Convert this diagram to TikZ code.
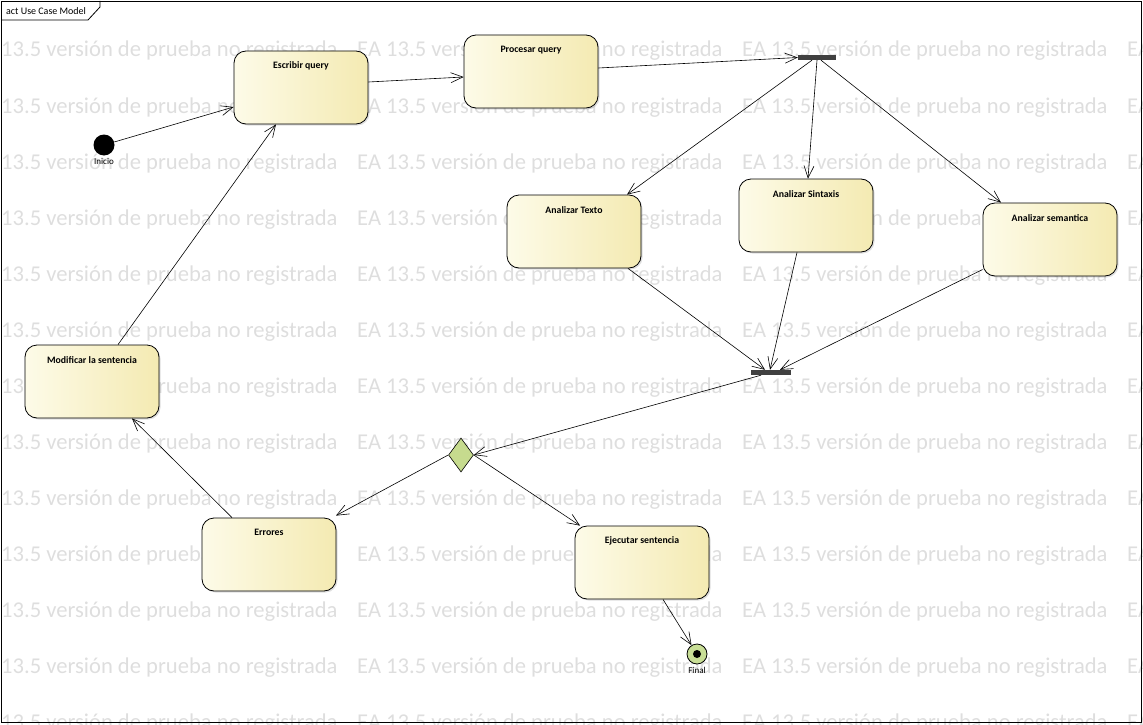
\documentclass[tikz,border=0pt]{standalone}
\usepackage{fontspec}
\setmainfont{Carlito}
\usetikzlibrary{arrows.meta,shapes.geometric,shadows}
\definecolor{boxL}{RGB}{253,251,232}
\definecolor{boxR}{RGB}{244,234,178}
\definecolor{wmark}{RGB}{222,222,222}
\definecolor{barc}{RGB}{64,64,64}
\definecolor{decc}{RGB}{198,219,142}
\definecolor{finc}{RGB}{200,222,150}
\tikzset{
  actbox/.style={draw=black, line width=0.8pt, rounded corners=12pt,
    minimum width=134pt, minimum height=73pt, inner sep=0pt,
    left color=boxL, right color=boxR,
    drop shadow={shadow xshift=1.5pt, shadow yshift=-1.5pt, opacity=0.25}},
  lbl/.style={font=\fontsize{9.8}{11}\selectfont\bfseries, inner sep=0pt},
  small/.style={font=\fontsize{9}{10}\selectfont, inner sep=0pt},
  bar/.style={fill=barc, draw=none, minimum width=38pt, minimum height=5pt, inner sep=0pt},
  flow/.style={draw=black, line width=0.6pt, -{Straight Barb[length=12pt,width=10pt,line width=0.6pt]}},
  wm/.style={text=wmark, font=\fontsize{22.6}{24}\selectfont, anchor=base west, inner sep=0pt},
}
\begin{document}
\begin{tikzpicture}[x=1pt,y=-1pt]
\useasboundingbox (0,0) rectangle (1143,725);
\begin{scope}
\clip (0,0) rectangle (1143,725);
\foreach \r in {0,...,12}{
  \foreach \c in {0,...,3}{
    \node[wm] at ({-28+385*\c},{57+56*\r}) {EA 13.5 versión de prueba no registrada};
  }
}
\end{scope}
% frame
\draw[line width=0.8pt] (1,1) rectangle (1141,722);
\draw[line width=0.8pt] (1,20) -- (88,20) -- (100,7) -- (100,1);
\node[anchor=base west, font=\fontsize{10}{11}\selectfont, inner sep=0pt] (frl) at (6,15) {act Use Case Model};

% nodes
\node[actbox] (esc) at (301,87.5) {};
\node[lbl] (escT) at ([yshift=-15pt]esc.north) {Escribir query};
\node[actbox] (pro) at (531,71.5) {};
\node[lbl] (proT) at ([yshift=-15pt]pro.north) {Procesar query};
\node[actbox] (tex) at (574,231.5) {};
\node[lbl] (texT) at ([yshift=-15pt]tex.north) {Analizar Texto};
\node[actbox] (sin) at (806,215.5) {};
\node[lbl] (sinT) at ([yshift=-15pt]sin.north) {Analizar Sintaxis};
\node[actbox] (sem) at (1050,239.5) {};
\node[lbl] (semT) at ([yshift=-15pt]sem.north) {Analizar semantica};
\node[actbox] (mod) at (92,381.5) {};
\node[lbl] (modT) at ([yshift=-15pt]mod.north) {Modificar la sentencia};
\node[actbox] (err) at (269,554.5) {};
\node[lbl] (errT) at ([yshift=-15pt]err.north) {Errores};
\node[actbox] (eje) at (642,562.5) {};
\node[lbl] (ejeT) at ([yshift=-15pt]eje.north) {Ejecutar sentencia};

\node[bar] (fork) at (817,57.5) {};
\node[bar, minimum width=40pt] (join) at (771,372.5) {};

\node[circle, fill=black, minimum size=21pt, inner sep=0pt] (ini) at (104,145) {};
\node[small] (iniT) at (104,161.5) {Inicio};

\node[circle, draw=black, line width=0.8pt, fill=finc, minimum size=20pt, inner sep=0pt] (fin) at (697,654) {};
\node[circle, fill=black, minimum size=8pt, inner sep=0pt] (finD) at (fin.center) {};
\node[small] (finT) at (697,670.5) {Final};

\node[diamond, draw=black, line width=0.6pt, fill=decc, minimum width=25pt, minimum height=34pt, inner sep=0pt] (dec) at (461,455) {};

% connectors
\draw[flow] (ini) -- ([yshift=-19.5pt]esc.west);
\draw[flow] ([yshift=5.5pt]esc.east) -- ([yshift=-5.5pt]pro.west);
\draw[flow] ([yshift=3.5pt]pro.east) -- (fork.west);
\draw[flow] ([xshift=-5pt]fork.south) -- ([xshift=53pt]tex.north);
\draw[flow] (fork.south) -- ([xshift=2pt]sin.north);
\draw[flow] ([xshift=4pt]fork.south) -- ([xshift=-49pt]sem.north);
\draw[flow] ([xshift=54pt]tex.south) -- ([xshift=-6pt]join.north);
\draw[flow] ([xshift=-9pt]sin.south) -- ([xshift=-1pt]join.north);
\draw[flow] ([yshift=-30pt]sem.west) -- ([xshift=9pt]join.north);
\draw[flow] ([xshift=-10pt]join.south) -- (dec.east);
\draw[flow] (dec.west) -- ([xshift=67pt,yshift=2pt]err.north);
\draw[flow] (dec.east) -- ([xshift=-62pt]eje.north);
\draw[flow] ([xshift=-37pt]err.north) -- ([xshift=40pt]mod.south);
\draw[flow] ([xshift=26pt]mod.north) -- ([xshift=-25pt]esc.south);
\draw[flow] ([xshift=21pt]eje.south) -- (fin);
\end{tikzpicture}
\end{document}
